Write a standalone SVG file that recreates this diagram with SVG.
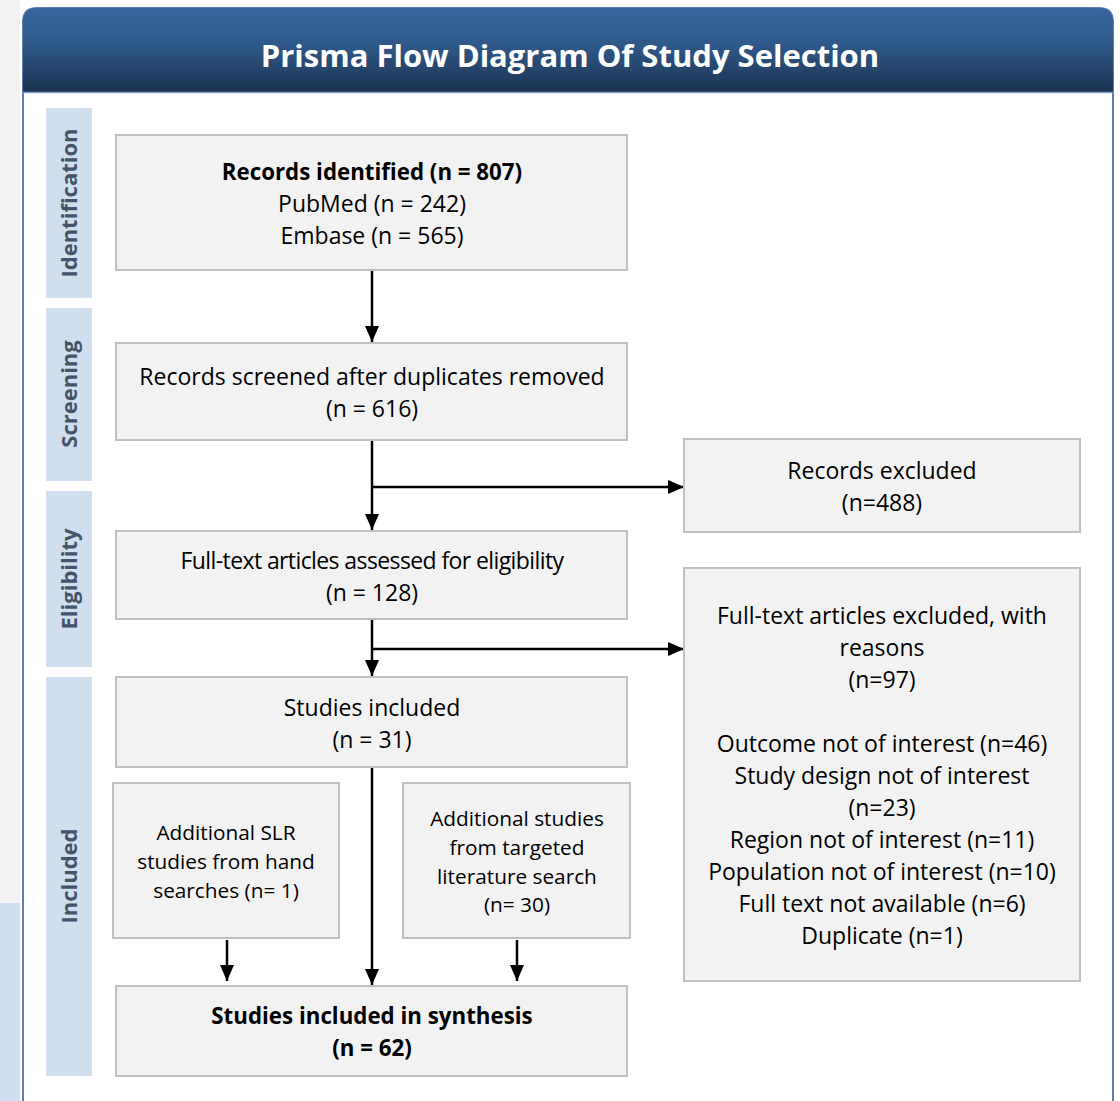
<svg xmlns="http://www.w3.org/2000/svg" width="1120" height="1101" viewBox="0 0 1120 1101">
<defs>
<linearGradient id="hdr" x1="0" y1="0" x2="0" y2="1">
<stop offset="0" stop-color="#36679d"/>
<stop offset="0.45" stop-color="#2e5888"/>
<stop offset="1" stop-color="#1c3250"/>
</linearGradient>
<marker id="ah" markerUnits="userSpaceOnUse" markerWidth="16" markerHeight="14" refX="16" refY="7" orient="auto">
<path d="M0,0 L16,7 L0,14 z" fill="#000"/>
</marker>
<style>
.box{fill:#f2f2f2;stroke:#c0c0c0;stroke-width:2}
.phase{fill:#cfdff0}
.pt{font-family:"Open Sans","Liberation Sans",sans-serif;font-weight:bold;font-size:22px;fill:#44546a;text-anchor:middle}
.t{font-family:"Open Sans","Liberation Sans",sans-serif;font-size:23px;fill:#000;text-anchor:middle}
.ts{font-family:"Open Sans","Liberation Sans",sans-serif;font-size:20.8px;fill:#000;text-anchor:middle}
.b{font-weight:bold;font-size:22.3px}
.con{stroke:#000;stroke-width:2.5;fill:none}
</style>
</defs>
<rect x="0" y="0" width="1120" height="1101" fill="#ffffff"/>
<rect x="0" y="0" width="20" height="903" fill="#f2f2f2"/>
<rect x="0" y="903" width="20" height="198" fill="#cfdff0"/>
<g id="frame">
<path d="M23,1101 L23,22 Q23,8 37,8 L1099,8 Q1113,8 1113,22 L1113,1101" fill="#ffffff" stroke="#5a7fb0" stroke-width="2"/>
<path d="M23,92 L23,22 Q23,8 37,8 L1099,8 Q1113,8 1113,22 L1113,92 Z" fill="url(#hdr)"/>
<line x1="23" y1="92.5" x2="1113" y2="92.5" stroke="#7e9cc8" stroke-width="1.5"/>
<text x="570" y="67" font-family="'Open Sans','Liberation Sans',sans-serif" font-weight="bold" font-size="31" fill="#ffffff" text-anchor="middle">Prisma Flow Diagram Of Study Selection</text>
</g>
<g id="phases">
<rect class="phase" x="46" y="108" width="46" height="190"/>
<text class="pt" transform="translate(77,203) rotate(-90)">Identification</text>
<rect class="phase" x="46" y="308" width="46" height="173"/>
<text class="pt" transform="translate(77,394) rotate(-90)">Screening</text>
<rect class="phase" x="46" y="491" width="46" height="176"/>
<text class="pt" transform="translate(77,579) rotate(-90)">Eligibility</text>
<rect class="phase" x="46" y="677" width="46" height="399"/>
<text class="pt" transform="translate(77,876) rotate(-90)">Included</text>
</g>
<g id="connectors">
<line class="con" x1="372" y1="271" x2="372" y2="342" marker-end="url(#ah)"/>
<line class="con" x1="372" y1="441" x2="372" y2="530" marker-end="url(#ah)"/>
<line class="con" x1="372" y1="487" x2="684" y2="487" marker-end="url(#ah)"/>
<line class="con" x1="372" y1="620" x2="372" y2="676" marker-end="url(#ah)"/>
<line class="con" x1="372" y1="649" x2="684" y2="649" marker-end="url(#ah)"/>
<line class="con" x1="372" y1="768" x2="372" y2="985" marker-end="url(#ah)"/>
<line class="con" x1="227" y1="940" x2="227" y2="981" marker-end="url(#ah)"/>
<line class="con" x1="517" y1="940" x2="517" y2="981" marker-end="url(#ah)"/>
</g>
<g id="n-identified">
<rect class="box" x="116" y="135" width="511" height="135"/>
<text class="t b" x="372" y="180">Records identified (n = 807)</text>
<text class="t" x="372" y="212">PubMed (n = 242)</text>
<text class="t" x="372" y="244">Embase (n = 565)</text>
</g>
<g id="n-screened">
<rect class="box" x="116" y="343" width="511" height="97"/>
<text class="t" x="372" y="385">Records screened after duplicates removed</text>
<text class="t" x="372" y="417">(n = 616)</text>
</g>
<g id="n-excluded">
<rect class="box" x="684" y="439" width="396" height="93"/>
<text class="t" x="882" y="479">Records excluded</text>
<text class="t" x="882" y="511">(n=488)</text>
</g>
<g id="n-eligibility">
<rect class="box" x="116" y="531" width="511" height="88"/>
<text class="t" x="372" y="569" letter-spacing="-0.6">Full-text articles assessed for eligibility</text>
<text class="t" x="372" y="601">(n = 128)</text>
</g>
<g id="n-fulltext-excluded">
<rect class="box" x="684" y="568" width="396" height="413"/>
<text class="t" x="882" y="624">Full-text articles excluded, with</text>
<text class="t" x="882" y="656">reasons</text>
<text class="t" x="882" y="688">(n=97)</text>
<text class="t" x="882" y="752">Outcome not of interest (n=46)</text>
<text class="t" x="882" y="784">Study design not of interest</text>
<text class="t" x="882" y="816">(n=23)</text>
<text class="t" x="882" y="848">Region not of interest (n=11)</text>
<text class="t" x="882" y="880">Population not of interest (n=10)</text>
<text class="t" x="882" y="912">Full text not available (n=6)</text>
<text class="t" x="882" y="944">Duplicate (n=1)</text>
</g>
<g id="n-included">
<rect class="box" x="116" y="677" width="511" height="90"/>
<text class="t" x="372" y="716">Studies included</text>
<text class="t" x="372" y="748">(n = 31)</text>
</g>
<g id="n-hand">
<rect class="box" x="113" y="783" width="226" height="155"/>
<text class="ts" x="226" y="840">Additional SLR</text>
<text class="ts" x="226" y="869">studies from hand</text>
<text class="ts" x="226" y="898">searches (n= 1)</text>
</g>
<g id="n-targeted">
<rect class="box" x="403" y="783" width="227" height="155"/>
<text class="ts" x="517" y="826">Additional studies</text>
<text class="ts" x="517" y="855">from targeted</text>
<text class="ts" x="517" y="884">literature search</text>
<text class="ts" x="517" y="912">(n= 30)</text>
</g>
<g id="n-synthesis">
<rect class="box" x="116" y="986" width="511" height="90"/>
<text class="t b" x="372" y="1024">Studies included in synthesis</text>
<text class="t b" x="372" y="1056">(n = 62)</text>
</g>
</svg>
